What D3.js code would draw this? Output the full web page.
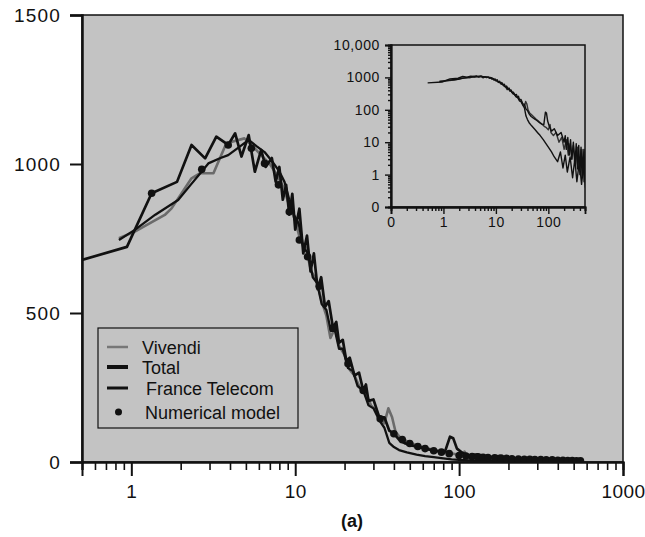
<!DOCTYPE html>
<html><head><meta charset="utf-8">
<script src="https://cdn.jsdelivr.net/npm/d3@7"></script>
<style>
body{margin:0;background:#fff;}
text{font-family:"Liberation Sans",Arial,Helvetica,sans-serif;}
</style></head>
<body><svg id="c" width="645" height="537"></svg>
<script>
// ---- data (x = size, y = count) ----
const vivendi = [[0.84,751],[1.05,773],[1.6,829],[1.76,851],[2.33,952],[2.63,969],[3.17,969],[3.8,1070],[4.9,1086],[5.5,1060],[6.2,1030],[7,1000],[7.8,960],[8.5,920],[9.2,860],[10,810],[10.8,740],[11.6,720],[12.5,640],[13.5,610],[14.5,540],[15.5,490],[16.4,416],[17.5,450],[18.5,390],[20,360],[21.5,310],[23,290],[25,245],[27,230],[29,190],[31,175],[33,140],[35,130],[37,180],[39,150],[41,100],[44,80],[48,70],[53,60],[58,52],[64,46],[70,40],[77,35],[85,30],[92,28],[100,24],[108,35],[112,20],[125,16],[140,20],[160,10],[180,14],[200,6],[220,12],[240,4],[260,9],[280,3],[300,8],[330,2],[360,7],[390,1.5],[420,6],[450,1],[480,5],[510,0.8],[540,4],[560,1.2]];
const total = [[0.5,678],[0.94,722],[1.33,902],[1.9,940],[2.33,1064],[2.82,1019],[3.3,1092],[3.9,1064],[4.3,1103],[4.7,1025],[5.2,1097],[5.67,974],[6.2,1047],[6.6,990],[7.2,1020],[7.6,940],[8.0,990],[8.4,880],[8.8,930],[9.2,830],[9.6,900],[10.0,780],[10.6,850],[11.2,700],[11.8,760],[12.4,640],[13.0,700],[13.7,580],[14.4,620],[15.2,520],[16,540],[17,450],[17.8,470],[18.5,400],[19.5,410],[20.5,340],[21.5,350],[23,290],[24.5,300],[26,240],[27,260],[28,205],[30,210],[32.6,150],[35,150],[37.5,105],[40,95],[43,75],[47,62],[52,55],[57,50],[62,45],[68,40],[75,36],[82,35],[88,85],[92,80],[97,45],[105,30],[115,22],[130,26],[150,16],[175,20],[200,10],[210,16],[220,6],[235,14],[250,4],[265,12],[280,3],[300,10],[320,2],[340,9],[360,1.5],[380,8],[400,1],[420,7],[440,0.8],[460,6],[480,0.6],[500,6],[520,0.8],[540,5],[560,1]];
const franceTelecom = [[0.84,745],[1.05,779],[1.4,830],[1.93,879],[2.3,930],[2.69,975],[2.95,1002],[3.5,1020],[3.9,1030],[4.5,1055],[5.2,1081],[5.8,1060],[6.5,1040],[7.2,1010],[8,975],[8.6,940],[9.2,880],[9.8,830],[10.5,800],[11.2,720],[12,700],[12.8,620],[13.6,600],[14.5,530],[15.5,510],[16.5,440],[17.5,440],[18.5,380],[19.5,380],[21,315],[22.5,305],[24,255],[26,240],[28,190],[30,180],[32.6,140],[35,115],[37.5,64],[40,50],[43,40],[48,32],[55,25],[62,20],[70,16],[80,12],[90,9],[100,7],[115,5],[130,3.5],[150,2.5],[170,5],[190,1.6],[210,4],[230,1.2],[260,3.5],[290,0.8],[320,3],[350,0.6],[390,2.5],[430,0.5],[470,2],[510,0.4],[550,2]];
const model = [[1.33,902],[2.69,982],[3.9,1064],[5.4,1053],[6.5,1002],[7.9,930],[9.2,840],[10.6,745],[11.9,689],[14,590],[17,450],[21,330],[26,240],[33,145],[40,95],[45,75],[50,62],[56,52],[62,45],[70,38],[78,33],[87,28],[100,22],[110,20],[120,18],[130,17],[140,16],[150,15],[165,14],[180,13],[195,12],[210,11],[230,10],[250,9],[270,9],[290,8],[315,8],[340,7],[370,7],[400,6],[430,6],[460,5],[490,5],[520,4],[550,4]];
const xMajor = [1,10,100,1000];
const yMajor = [0,500,1000,1500];
const insetXTicks = [0.1,1,10,100];
const insetXLabels = ["0","1","10","100"];
const insetYTicks = [0.1,1,10,100,1000,10000];
const insetYLabels = ["0","1","10","100","1000","10,000"];
const legendItems = ["Vivendi","Total","France Telecom","Numerical model"];

const svg = d3.select("#c");
const L=82,R=623,T=15,B=462;
const x = d3.scaleLog().domain([0.5,1000]).range([L,R]);
const y = d3.scaleLinear().domain([0,1500]).range([B,T]);
const bg="#c3c3c3";

svg.append("rect").attr("x",L).attr("y",T).attr("width",R-L).attr("height",B-T).attr("fill",bg).attr("stroke","#111").attr("stroke-width",1.5);

function minorTicks(lo,hi){const a=[];for(let d=Math.floor(Math.log10(lo));d<=Math.ceil(Math.log10(hi));d++){for(let m=2;m<=9;m++){const v=m*Math.pow(10,d);if(v>=lo&&v<=hi)a.push(v);}}return a;}

// main x axis
const gx=svg.append("g").attr("transform",`translate(0,${B})`);
gx.call(d3.axisBottom(x).tickValues(minorTicks(0.5,1000)).tickSize(8).tickFormat(""));
const gx2=svg.append("g").attr("transform",`translate(0,${B})`);
gx2.call(d3.axisBottom(x).tickValues(xMajor).tickSize(14).tickPadding(9).tickFormat(d3.format("d")));
svg.selectAll("g path.domain").attr("stroke-width",2).attr("stroke","#111");
gx.selectAll("line").attr("stroke-width",1.6).attr("stroke","#111");
gx2.selectAll("line").attr("stroke-width",2).attr("stroke","#111");
gx2.selectAll("text").attr("font-size",19).attr("letter-spacing",0.4).attr("fill","#111");

// main y axis
const gy=svg.append("g").attr("transform",`translate(${L},0)`);
gy.call(d3.axisLeft(y).tickValues(yMajor).tickSize(12).tickPadding(9).tickFormat(d3.format("d")));
gy.select("path.domain").attr("stroke-width",2.5).attr("stroke","#111");
gy.selectAll("line").attr("stroke-width",2).attr("stroke","#111");
gy.selectAll("text").attr("font-size",19).attr("letter-spacing",1.2).attr("fill","#111");

// main curves
svg.append("clipPath").attr("id","mclip").append("rect").attr("x",L).attr("y",T).attr("width",R-L).attr("height",B-T);
const line=d3.line().x(d=>x(d[0])).y(d=>y(d[1]));
const gm=svg.append("g").attr("clip-path","url(#mclip)");
gm.append("path").datum(vivendi).attr("d",line).attr("fill","none").attr("stroke","#6b6b6b").attr("stroke-width",2.6).attr("stroke-linejoin","round");
gm.append("path").datum(franceTelecom).attr("d",line).attr("fill","none").attr("stroke","#111").attr("stroke-width",2.3).attr("stroke-linejoin","round");
gm.append("path").datum(total).attr("d",line).attr("fill","none").attr("stroke","#111").attr("stroke-width",2.7).attr("stroke-linejoin","round");
gm.selectAll("circle").data(model).enter().append("circle").attr("cx",d=>x(d[0])).attr("cy",d=>y(d[1])).attr("r",3.8).attr("fill","#111");

// legend
const lg=svg.append("g");
lg.append("rect").attr("x",98).attr("y",328).attr("width",200).attr("height",100).attr("fill","none").attr("stroke","#111").attr("stroke-width",1.2);
const ly=[347,367,388,412];
const lx=[142,142,146,145];
const lstyle=[["#777",2.5],["#111",4],["#111",3]];
lstyle.forEach((s,i)=>lg.append("line").attr("x1",107).attr("x2",128).attr("y1",ly[i]).attr("y2",ly[i]).attr("stroke",s[0]).attr("stroke-width",s[1]));
lg.append("circle").attr("cx",118.5).attr("cy",ly[3]).attr("r",3.5).attr("fill","#111");
legendItems.forEach((t,i)=>lg.append("text").attr("x",lx[i]).attr("y",ly[i]+6.5).attr("font-size",18).attr("fill","#111").text(t));

// inset
const IL=391,IR=585,IT=45,IB=207;
const ix=d3.scaleLog().domain([0.1,500]).range([IL,IR]);
const iy=d3.scaleLog().domain([0.1,10000]).range([IB,IT]);
svg.append("rect").attr("x",IL).attr("y",IT).attr("width",IR-IL).attr("height",IB-IT).attr("fill",bg).attr("stroke","#111").attr("stroke-width",1.5);
svg.append("clipPath").attr("id","iclip").append("rect").attr("x",IL).attr("y",IT).attr("width",IR-IL).attr("height",IB-IT);
const iline=d3.line().x(d=>ix(d[0])).y(d=>iy(d[1]));
const gi=svg.append("g").attr("clip-path","url(#iclip)");
[vivendi,franceTelecom,total].forEach((s,i)=>gi.append("path").datum(s).attr("d",iline).attr("fill","none").attr("stroke",i==0?"#333":"#111").attr("stroke-width",1.4).attr("stroke-linejoin","round"));

const ixg=svg.append("g").attr("transform",`translate(0,${IB})`);
ixg.call(d3.axisBottom(ix).tickValues(minorTicks(0.1,500)).tickSize(4).tickFormat(""));
const ixg2=svg.append("g").attr("transform",`translate(0,${IB})`);
ixg2.call(d3.axisBottom(ix).tickValues(insetXTicks).tickSize(7).tickPadding(3).tickFormat((d,i)=>insetXLabels[i]));
const iyg=svg.append("g").attr("transform",`translate(${IL},0)`);
iyg.call(d3.axisLeft(iy).tickValues(minorTicks(0.1,10000)).tickSize(3).tickFormat(""));
const iyg2=svg.append("g").attr("transform",`translate(${IL},0)`);
iyg2.call(d3.axisLeft(iy).tickValues(insetYTicks).tickSize(6).tickPadding(5).tickFormat((d,i)=>insetYLabels[i]));
[ixg,ixg2,iyg,iyg2].forEach(g=>{g.select("path.domain").attr("stroke","#111").attr("stroke-width",1.8);g.selectAll("line").attr("stroke","#111").attr("stroke-width",1.4);g.selectAll("text").attr("font-size",14).attr("letter-spacing",0.6).attr("fill","#111");});

// caption
svg.append("text").attr("x",352).attr("y",527).attr("text-anchor","middle").attr("font-size",18).attr("font-weight","bold").attr("fill","#111").text("(a)");
</script></body></html>
